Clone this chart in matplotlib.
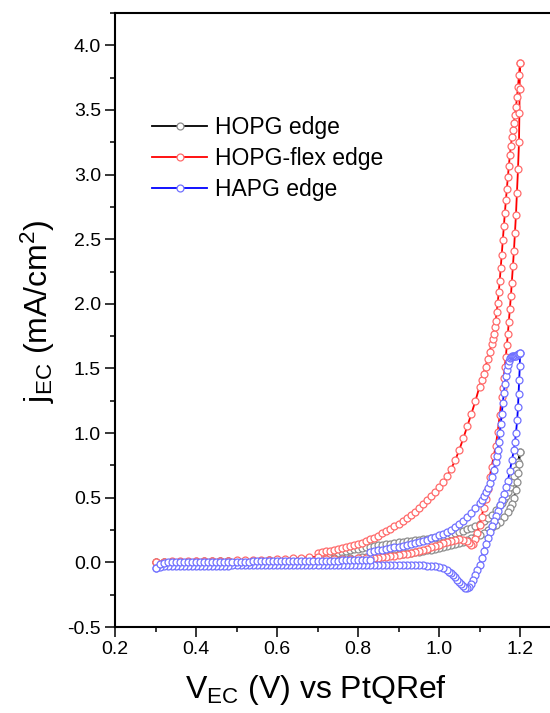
import numpy as np
import matplotlib.pyplot as plt
from matplotlib.ticker import MultipleLocator

plt.rcParams['font.family'] = ['Liberation Sans', 'DejaVu Sans']
plt.rcParams['mathtext.fontset'] = 'custom'
plt.rcParams['mathtext.rm'] = 'Liberation Sans'
plt.rcParams['mathtext.it'] = 'Liberation Sans'

# ---- HOPG edge (black): anodic sweep from 0.70 V, cathodic sweep to 0.30 V, return to 0.70 V
hopg_v_fwd = [0.70, 0.71, 0.72, 0.73, 0.74, 0.75, 0.76, 0.77, 0.78, 0.79, 0.80, 0.81, 0.82, 0.83,
              0.84, 0.85, 0.86, 0.87, 0.88, 0.89, 0.90, 0.91, 0.92, 0.93, 0.94, 0.95, 0.96, 0.97,
              0.98, 0.99, 1.00, 1.01, 1.02, 1.03, 1.04, 1.05, 1.06, 1.07, 1.08, 1.09, 1.10, 1.11,
              1.12, 1.13, 1.14, 1.15, 1.155, 1.16, 1.165, 1.17, 1.175, 1.18, 1.185, 1.19, 1.195, 1.20]
hopg_j_fwd = [0.040, 0.047, 0.054, 0.061, 0.068, 0.075, 0.082, 0.088, 0.094, 0.100, 0.106, 0.111,
              0.116, 0.121, 0.126, 0.131, 0.136, 0.141, 0.146, 0.150, 0.154, 0.158, 0.162, 0.166,
              0.170, 0.174, 0.178, 0.182, 0.187, 0.192, 0.197, 0.203, 0.209, 0.216, 0.224, 0.233,
              0.243, 0.255, 0.268, 0.283, 0.300, 0.320, 0.343, 0.370, 0.402, 0.440, 0.462, 0.487,
              0.515, 0.547, 0.582, 0.622, 0.667, 0.715, 0.775, 0.850]
hopg_v_rev = [1.20, 1.1975, 1.195, 1.1925, 1.19, 1.185, 1.18, 1.175, 1.17, 1.16, 1.15, 1.14, 1.13,
              1.12, 1.11, 1.10, 1.09, 1.08, 1.07, 1.06, 1.05, 1.04, 1.03, 1.02, 1.01, 1.00, 0.99,
              0.98, 0.97, 0.96, 0.95, 0.94, 0.93, 0.92, 0.91, 0.90, 0.89, 0.88, 0.87, 0.86, 0.85,
              0.84, 0.83, 0.82, 0.81, 0.80, 0.78, 0.76, 0.74, 0.72, 0.70, 0.68, 0.66, 0.64, 0.62,
              0.60, 0.58, 0.56, 0.54, 0.52, 0.50, 0.48, 0.46, 0.44, 0.42, 0.40, 0.38, 0.36, 0.34,
              0.32, 0.30]
hopg_j_rev = [0.850, 0.760, 0.690, 0.620, 0.560, 0.500, 0.455, 0.420, 0.390, 0.350, 0.315, 0.290,
              0.270, 0.250, 0.230, 0.215, 0.200, 0.185, 0.172, 0.160, 0.150, 0.140, 0.132, 0.125,
              0.118, 0.111, 0.105, 0.099, 0.094, 0.089, 0.084, 0.079, 0.075, 0.071, 0.067, 0.063,
              0.059, 0.056, 0.053, 0.050, 0.047, 0.045, 0.043, 0.041, 0.039, 0.037, 0.034, 0.032,
              0.030, 0.027, 0.025, 0.023, 0.021, 0.019, 0.017, 0.016, 0.015, 0.014, 0.013, 0.011,
              0.010, 0.009, 0.008, 0.008, 0.007, 0.006, 0.005, 0.004, 0.004, 0.003, 0.002]
hopg_v_ret = [0.30, 0.32, 0.34, 0.36, 0.38, 0.40, 0.42, 0.44, 0.46, 0.48, 0.50, 0.52, 0.54, 0.56,
              0.58, 0.60, 0.62, 0.64, 0.66, 0.68, 0.70]
hopg_j_ret = [0.002, 0.003, 0.004, 0.004, 0.005, 0.005, 0.006, 0.006, 0.007, 0.007, 0.008, 0.008,
              0.009, 0.010, 0.011, 0.012, 0.013, 0.014, 0.016, 0.018, 0.020]

# ---- HOPG-flex edge (red)
flex_v_fwd = [0.70, 0.71, 0.72, 0.73, 0.74, 0.75, 0.76, 0.77, 0.78, 0.79, 0.80, 0.81, 0.82, 0.83,
              0.84, 0.85, 0.86, 0.87, 0.88, 0.89, 0.90, 0.91, 0.92, 0.93, 0.94, 0.95, 0.96, 0.97,
              0.98, 0.99, 1.00, 1.01, 1.02, 1.03, 1.04, 1.05, 1.06, 1.07, 1.08, 1.09, 1.10, 1.105,
              1.11, 1.115, 1.12, 1.125, 1.13, 1.1325, 1.135, 1.1375, 1.14, 1.1425, 1.145, 1.1475,
              1.15, 1.1525, 1.155, 1.1575, 1.16, 1.1625, 1.165, 1.1675, 1.17, 1.1725, 1.175,
              1.1775, 1.18, 1.1825, 1.185, 1.1875, 1.19, 1.1925, 1.195, 1.1975, 1.20]
flex_j_fwd = [0.075, 0.080, 0.085, 0.090, 0.095, 0.102, 0.110, 0.117, 0.125, 0.132, 0.140, 0.152,
              0.165, 0.177, 0.190, 0.207, 0.225, 0.242, 0.260, 0.280, 0.300, 0.322, 0.345, 0.367,
              0.390, 0.420, 0.450, 0.480, 0.510, 0.545, 0.580, 0.622, 0.670, 0.725, 0.790, 0.870,
              0.960, 1.055, 1.150, 1.250, 1.360, 1.410, 1.460, 1.515, 1.570, 1.630, 1.690, 1.730,
              1.770, 1.820, 1.870, 1.940, 2.010, 2.090, 2.180, 2.280, 2.380, 2.490, 2.600, 2.700,
              2.800, 2.890, 2.980, 3.070, 3.150, 3.220, 3.290, 3.345, 3.400, 3.460, 3.520, 3.600,
              3.680, 3.770, 3.860]
flex_v_rev = [1.20, 1.199, 1.1985, 1.1975, 1.195, 1.1925, 1.19, 1.1875, 1.185, 1.1825, 1.18, 1.1775,
              1.175, 1.1725, 1.17, 1.1675, 1.165, 1.1625, 1.16, 1.1575, 1.155, 1.15, 1.145, 1.14,
              1.135, 1.13, 1.125, 1.12, 1.115, 1.11, 1.105, 1.10, 1.095, 1.09, 1.085, 1.08, 1.075,
              1.07, 1.06, 1.05, 1.04, 1.03, 1.02, 1.01, 1.00, 0.99, 0.98, 0.97, 0.96, 0.95, 0.94,
              0.93, 0.92, 0.91, 0.90, 0.89, 0.88, 0.87, 0.86, 0.85, 0.84, 0.83, 0.82, 0.80, 0.78,
              0.76, 0.74, 0.72, 0.70, 0.68, 0.66, 0.64, 0.62, 0.60, 0.58, 0.56, 0.54, 0.52, 0.50,
              0.48, 0.46, 0.44, 0.42, 0.40, 0.38, 0.36, 0.34, 0.32, 0.30]
flex_j_rev = [3.860, 3.660, 3.480, 3.250, 3.040, 2.860, 2.690, 2.550, 2.410, 2.290, 2.160, 2.060,
              1.960, 1.860, 1.770, 1.680, 1.590, 1.510, 1.430, 1.350, 1.280, 1.140, 1.010, 0.900,
              0.820, 0.740, 0.660, 0.570, 0.490, 0.420, 0.350, 0.290, 0.230, 0.180, 0.140, 0.135,
              0.150, 0.165, 0.175, 0.180, 0.175, 0.168, 0.158, 0.148, 0.138, 0.127, 0.117, 0.107,
              0.098, 0.090, 0.082, 0.075, 0.068, 0.062, 0.056, 0.051, 0.047, 0.043, 0.040, 0.037,
              0.035, 0.033, 0.032, 0.030, 0.029, 0.027, 0.026, 0.024, 0.022, 0.021, 0.020, 0.019,
              0.018, 0.016, 0.015, 0.014, 0.013, 0.012, 0.011, 0.010, 0.009, 0.008, 0.007, 0.007,
              0.006, 0.005, 0.004, 0.002, 0.000]
flex_v_ret = [0.30, 0.32, 0.34, 0.36, 0.38, 0.40, 0.42, 0.44, 0.46, 0.48, 0.50, 0.52, 0.54, 0.56,
              0.58, 0.60, 0.62, 0.64, 0.66, 0.68, 0.70]
flex_j_ret = [0.005, 0.006, 0.007, 0.008, 0.009, 0.010, 0.011, 0.011, 0.012, 0.013, 0.015, 0.016,
              0.018, 0.019, 0.022, 0.025, 0.028, 0.031, 0.035, 0.040, 0.045]

# ---- HAPG edge (blue): anodic sweep from 0.83 V
hapg_v_fwd = [0.83, 0.84, 0.85, 0.86, 0.87, 0.88, 0.89, 0.90, 0.91, 0.92, 0.93, 0.94, 0.95, 0.96,
              0.97, 0.98, 0.99, 1.00, 1.01, 1.02, 1.03, 1.04, 1.05, 1.06, 1.07, 1.08, 1.09, 1.10,
              1.105, 1.11, 1.115, 1.12, 1.125, 1.13, 1.135, 1.14, 1.1425, 1.145, 1.1475, 1.15,
              1.1525, 1.155, 1.1575, 1.16, 1.1625, 1.165, 1.1675, 1.17, 1.1725, 1.175, 1.1775,
              1.18, 1.1825, 1.185, 1.1875, 1.19, 1.1925, 1.195, 1.1975, 1.20]
hapg_j_fwd = [0.080, 0.086, 0.092, 0.098, 0.104, 0.110, 0.116, 0.122, 0.128, 0.135, 0.142, 0.150,
              0.158, 0.167, 0.176, 0.186, 0.197, 0.209, 0.222, 0.237, 0.254, 0.273, 0.295, 0.320,
              0.348, 0.380, 0.417, 0.460, 0.485, 0.512, 0.542, 0.577, 0.617, 0.662, 0.715, 0.780,
              0.820, 0.870, 0.930, 1.000, 1.070, 1.150, 1.230, 1.310, 1.380, 1.440, 1.490, 1.530,
              1.560, 1.580, 1.590, 1.595, 1.597, 1.598, 1.600, 1.600, 1.605, 1.610, 1.615, 1.620]
hapg_v_rev = [1.20, 1.1995, 1.198, 1.1965, 1.195, 1.193, 1.19, 1.1875, 1.185, 1.18, 1.175, 1.17,
              1.165, 1.16, 1.155, 1.15, 1.145, 1.14, 1.135, 1.13, 1.125, 1.12, 1.115, 1.11, 1.105,
              1.10, 1.095, 1.09, 1.085, 1.08, 1.075, 1.07, 1.065, 1.06, 1.055, 1.05, 1.045, 1.04,
              1.035, 1.03, 1.025, 1.02, 1.01, 1.00, 0.99, 0.98, 0.97, 0.96, 0.95, 0.94, 0.93, 0.92,
              0.91, 0.90, 0.89, 0.88, 0.87, 0.86, 0.85, 0.84, 0.83, 0.82, 0.81, 0.80, 0.79, 0.78,
              0.77, 0.76, 0.75, 0.74, 0.73, 0.72, 0.71, 0.70, 0.69, 0.68, 0.67, 0.66, 0.65, 0.64,
              0.63, 0.62, 0.61, 0.60, 0.59, 0.58, 0.57, 0.56, 0.55, 0.54, 0.53, 0.52, 0.51, 0.50,
              0.49, 0.48, 0.47, 0.46, 0.45, 0.44, 0.43, 0.42, 0.41, 0.40, 0.39, 0.38, 0.37, 0.36,
              0.35, 0.34, 0.33, 0.32, 0.31, 0.30]
hapg_j_rev = [1.620, 1.520, 1.410, 1.300, 1.200, 1.100, 1.000, 0.930, 0.870, 0.790, 0.710, 0.630,
              0.580, 0.530, 0.480, 0.440, 0.395, 0.360, 0.320, 0.280, 0.235, 0.190, 0.140, 0.090,
              0.030, -0.020, -0.060, -0.100, -0.135, -0.165, -0.188, -0.200, -0.195, -0.183,
              -0.167, -0.150, -0.133, -0.116, -0.100, -0.086, -0.073, -0.062, -0.046, -0.036,
              -0.030, -0.027, -0.025, -0.023, -0.022, -0.021, -0.021, -0.020, -0.020, -0.020,
              -0.020, -0.020, -0.020, -0.020, -0.020, -0.020, -0.021, -0.021, -0.021, -0.021,
              -0.021, -0.022, -0.022, -0.022, -0.022, -0.022, -0.022, -0.022, -0.022, -0.022,
              -0.022, -0.023, -0.023, -0.023, -0.023, -0.023, -0.023, -0.023, -0.023, -0.023,
              -0.024, -0.024, -0.024, -0.024, -0.024, -0.024, -0.024, -0.024, -0.024, -0.024,
              -0.024, -0.025, -0.025, -0.025, -0.025, -0.025, -0.025, -0.026, -0.026, -0.026,
              -0.026, -0.027, -0.027, -0.027, -0.028, -0.028, -0.029, -0.031, -0.034, -0.040]
hapg_v_ret = [0.30, 0.31, 0.32, 0.33, 0.34, 0.35, 0.36, 0.37, 0.38, 0.39, 0.40, 0.41, 0.42, 0.43,
              0.44, 0.45, 0.46, 0.47, 0.48, 0.49, 0.50, 0.51, 0.52, 0.53, 0.54, 0.55, 0.56, 0.57,
              0.58, 0.59, 0.60, 0.61, 0.62, 0.63, 0.64, 0.65, 0.66, 0.67, 0.68, 0.69, 0.70, 0.71,
              0.72, 0.73, 0.74, 0.75, 0.76, 0.77, 0.78, 0.79, 0.80, 0.81, 0.82, 0.83]
hapg_j_ret = [-0.040, -0.015, -0.005, 0.000, 0.001, 0.002, 0.002, 0.003, 0.003, 0.003, 0.004,
              0.004, 0.004, 0.004, 0.005, 0.005, 0.005, 0.005, 0.005, 0.006, 0.006, 0.006, 0.006,
              0.006, 0.007, 0.007, 0.007, 0.007, 0.007, 0.008, 0.008, 0.008, 0.009, 0.009, 0.009,
              0.010, 0.010, 0.010, 0.011, 0.011, 0.012, 0.012, 0.013, 0.013, 0.014, 0.014, 0.015,
              0.015, 0.016, 0.016, 0.017, 0.018, 0.019, 0.020]

series = [
    ("HOPG edge", hopg_v_fwd + hopg_v_rev + hopg_v_ret, hopg_j_fwd + hopg_j_rev + hopg_j_ret,
     "#000000", "#8c8c8c"),
    ("HOPG-flex edge", flex_v_fwd + flex_v_rev + flex_v_ret, flex_j_fwd + flex_j_rev + flex_j_ret,
     "#ff0000", "#ff6a6a"),
    ("HAPG edge", hapg_v_fwd + hapg_v_rev + hapg_v_ret, hapg_j_fwd + hapg_j_rev + hapg_j_ret,
     "#0000ff", "#7070ff"),
]

fig = plt.figure(figsize=(5.5, 7.13), dpi=100)
ax = fig.add_axes([0.2091, 0.1206, 0.81, 0.8612])

for name, v, j, lc, mc in series:
    ax.plot(np.array(v), np.array(j), color=lc, lw=1.3, marker='o', ms=5.0,
            mfc='white', mec=mc, mew=0.9, label=name)

ax.set_xlim(0.2, 1.3)
ax.set_ylim(-0.5, 4.25)
ax.xaxis.set_major_locator(MultipleLocator(0.2))
ax.xaxis.set_minor_locator(MultipleLocator(0.1))
ax.yaxis.set_major_locator(MultipleLocator(0.5))
ax.yaxis.set_minor_locator(MultipleLocator(0.25))
ax.xaxis.set_major_formatter(plt.FormatStrFormatter('%.1f'))
ax.yaxis.set_major_formatter(plt.FormatStrFormatter('%.1f'))

ax.tick_params(which='both', direction='out', width=1.1, labelsize=14, top=False, right=False)
ax.tick_params(which='major', length=7, pad=3)
ax.tick_params(which='minor', length=3.5)
for s in ax.spines.values():
    s.set_linewidth(1.5)

ax.set_xlabel(r'V$_{\mathrm{EC}}$ (V) vs PtQRef', fontsize=23)
ax.set_ylabel(r'j$_{\mathrm{EC}}$ (mA/cm$^{2}$)', fontsize=23)
ax.xaxis.set_label_coords(0.452, -0.075)
ax.yaxis.set_label_coords(-0.13, 0.515)

leg = ax.legend(loc='upper left', bbox_to_anchor=(152 / 550, 1 - 116 / 713),
                bbox_transform=fig.transFigure, frameon=False, fontsize=16.5,
                numpoints=1, handlelength=2.4, handletextpad=0.35, labelspacing=0.35,
                borderpad=0, borderaxespad=0)

plt.savefig("out.png", dpi=100)
